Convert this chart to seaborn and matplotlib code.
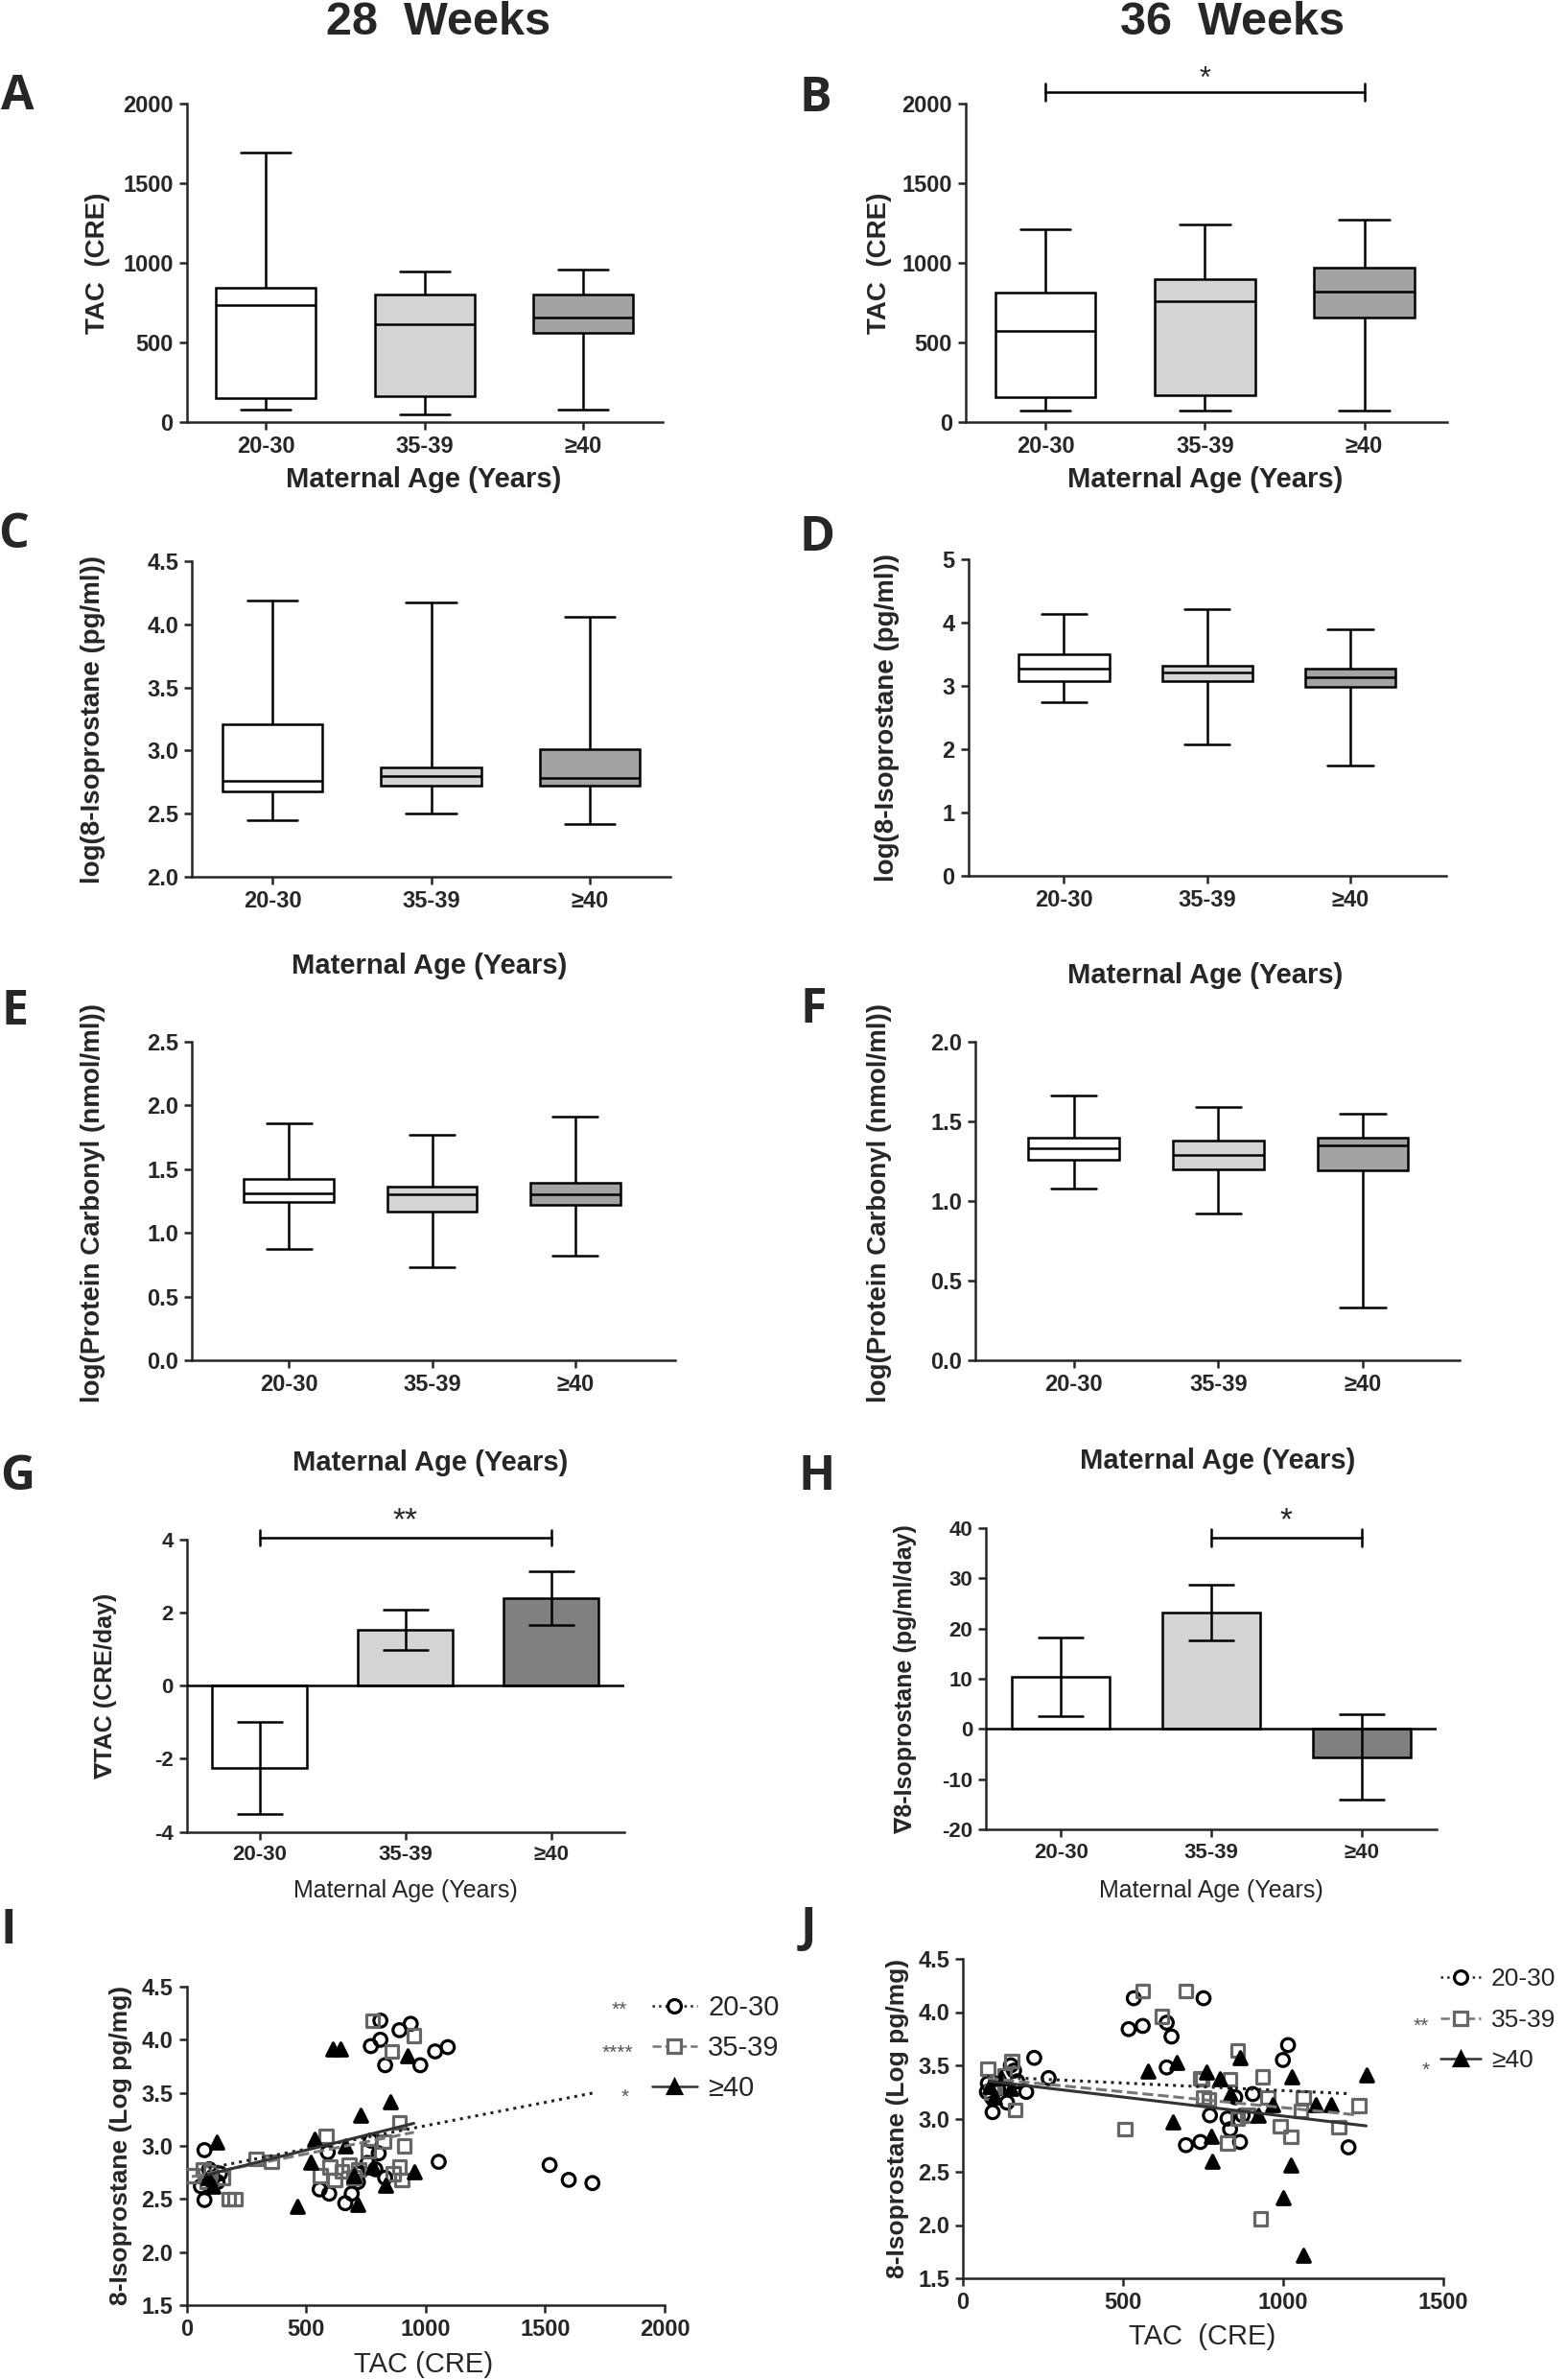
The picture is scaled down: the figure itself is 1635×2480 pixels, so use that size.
import numpy as np
import pandas as pd
import matplotlib
matplotlib.use("Agg")
import matplotlib.pyplot as plt
from matplotlib.lines import Line2D
import seaborn as sns

# ---- data ----
groups = ["20-30", "35-39", "≥40"]

# box summaries per group: [min, Q1, median, Q3, max]
tac_28 = [[76, 151, 734, 844, 1690], [48, 161, 617, 800, 945], [78, 563, 659, 800, 959]]
tac_36 = [[72, 157, 572, 815, 1213], [72, 169, 757, 898, 1239], [72, 657, 818, 971, 1269]]
iso_28 = [[2.45, 2.68, 2.76, 3.21, 4.19], [2.50, 2.72, 2.80, 2.87, 4.17], [2.42, 2.72, 2.78, 3.01, 4.06]]
iso_36 = [[2.75, 3.07, 3.28, 3.50, 4.14], [2.07, 3.07, 3.21, 3.32, 4.21], [1.75, 2.99, 3.14, 3.28, 3.89]]
pc_28 = [[0.87, 1.24, 1.31, 1.42, 1.86], [0.73, 1.17, 1.30, 1.36, 1.77], [0.82, 1.22, 1.30, 1.39, 1.91]]
pc_36 = [[1.08, 1.26, 1.33, 1.40, 1.66], [0.92, 1.20, 1.29, 1.38, 1.59], [0.33, 1.19, 1.35, 1.40, 1.55]]

# rate of change, mean and SEM
dtac_mean = [-2.25, 1.53, 2.40]
dtac_err = [1.26, 0.56, 0.73]
diso_mean = [10.4, 23.2, -5.6]
diso_err = [7.8, 5.5, 8.5]

# scatter I (28 weeks): TAC vs 8-isoprostane
i_x_2030 = [75, 75, 95, 110, 130, 60, 140, 557, 591, 597, 664, 691, 717, 717, 757, 771, 804, 831, 790,
            771, 811, 811, 831, 891, 938, 978, 1040, 1093, 1055, 1519, 1599, 1698]
i_y_2030 = [2.96, 2.49, 2.78, 2.70, 2.66, 2.62, 2.74, 2.59, 2.94, 2.55, 2.46, 2.55, 2.66, 2.74, 2.84, 3.05, 2.93, 2.70, 2.78,
            3.94, 4.18, 4.00, 3.76, 4.09, 4.15, 3.76, 3.89, 3.93, 2.85, 2.82, 2.68, 2.65]
i_x_3539 = [22, 70, 85, 100, 150, 176, 203, 290, 356, 584, 560, 600, 620, 650, 680, 700, 720, 760, 824, 864,
            891, 891, 911, 900, 778, 858, 951]
i_y_3539 = [2.72, 2.78, 2.66, 2.75, 2.70, 2.50, 2.50, 2.88, 2.85, 3.09, 2.72, 2.80, 2.68, 2.76, 2.82, 2.70, 2.78, 2.95, 3.04, 2.74,
            2.80, 3.22, 3.00, 2.68, 4.18, 3.89, 4.04]
i_x_40 = [126, 90, 110, 463, 519, 537, 611, 644, 664, 717, 728, 831, 851, 925, 951, 700, 780]
i_y_40 = [3.04, 2.70, 2.62, 2.43, 2.85, 3.06, 3.91, 3.91, 3.00, 2.45, 3.29, 2.63, 3.42, 3.85, 2.76, 2.72, 2.80]

# scatter J (36 weeks)
j_x_2030 = [78, 93, 138, 110, 90, 160, 170, 198, 223, 268, 75, 150, 518, 562, 534, 637, 637, 652, 752,
            697, 742, 772, 835, 866, 851, 906, 874, 1000, 1016, 1205, 827]
j_y_2030 = [3.33, 3.06, 3.15, 3.28, 3.20, 3.45, 3.35, 3.25, 3.57, 3.38, 3.25, 3.50, 3.84, 3.87, 4.13, 3.48, 3.90, 3.77, 4.13,
            2.75, 2.78, 3.03, 2.90, 2.78, 3.20, 3.23, 3.03, 3.55, 3.69, 2.73, 3.00]
j_x_3539 = [78, 153, 163, 100, 130, 90, 507, 562, 697, 622, 742, 752, 748, 769, 835, 859, 827, 890, 937,
            953, 930, 992, 1024, 1056, 1064, 1174, 1237, 859]
j_y_3539 = [3.47, 3.54, 3.08, 3.30, 3.40, 3.25, 2.90, 4.20, 4.20, 3.96, 3.38, 3.20, 3.37, 3.18, 3.37, 3.64, 2.77, 3.03, 3.39,
            3.20, 2.06, 2.93, 2.83, 3.07, 3.20, 2.92, 3.12, 3.00]
j_x_40 = [85, 120, 150, 100, 577, 667, 656, 761, 780, 775, 866, 922, 969, 1000, 1027, 1024, 1063, 1103, 1150, 1260, 835, 804]
j_y_40 = [3.30, 3.38, 3.28, 3.20, 3.45, 3.53, 2.97, 3.44, 2.60, 2.83, 3.57, 3.03, 3.13, 2.26, 3.39, 2.56, 1.72, 3.13, 3.13, 3.41, 3.23, 3.37]

# regression lines (slope, intercept)
i_slope = [0.00044, 0.00045, 0.00056]
i_icpt = [2.75, 2.70, 2.68]
j_slope = [-0.000142, -0.000297, -0.000356]
j_icpt = [3.405, 3.40, 3.38]
i_stars = ["**", "****", "*"]
j_stars = ["", "**", "*"]

# ---- styling ----
NARROW = ["Liberation Sans Narrow", "Liberation Sans", "DejaVu Sans"]
REG = ["Liberation Sans", "DejaVu Sans"]
sns.set_style("ticks")
plt.rcParams["font.family"] = NARROW
plt.rcParams["font.weight"] = "bold"
plt.rcParams["axes.labelweight"] = "bold"

box_colors = ["#ffffff", "#d4d4d4", "#a3a3a3"]
bar_colors = ["#ffffff", "#d4d4d4", "#808080"]
LW = 1.8

W, H = 1635, 2480
fig = plt.figure(figsize=(W / 100, H / 100), dpi=100)


def add_axes(l, t, r, b):
    return fig.add_axes([l / W, 1 - b / H, (r - l) / W, (b - t) / H])


def px_to_axes(ax, x, y):
    l, b, w, h = ax.get_position().bounds
    return (x / W - l) / w, ((1 - y / H) - b) / h


def style(ax, xlim, ylim, yticks, fmt, size=17):
    sns.despine(ax=ax)
    ax.set_xlim(*xlim)
    ax.set_ylim(*ylim)
    ax.set_yticks(yticks)
    ax.set_yticklabels([fmt.format(v) for v in yticks])
    for s in ax.spines.values():
        s.set_linewidth(LW)
    ax.tick_params(width=LW, length=6, direction="out", labelsize=size, pad=4)


def labels(ax, xlabel, ylabel, xpos, ypos, xsize=21, ysize=20, **kw):
    ax.set_xlabel(xlabel, fontsize=xsize, **kw)
    ax.set_ylabel(ylabel, fontsize=ysize, **kw)
    ax.xaxis.set_label_coords(*px_to_axes(ax, *xpos))
    ax.yaxis.set_label_coords(*px_to_axes(ax, *ypos))
    ax.xaxis.label.set_va("center")
    ax.yaxis.label.set_va("center")


def box_panel(ax, summaries):
    df = pd.DataFrame({"group": np.repeat(groups, 5), "value": np.concatenate(summaries)})
    sns.boxplot(data=df, x="group", y="value", hue="group", order=groups, hue_order=groups,
                palette=box_colors, saturation=1, whis=(0, 100), width=0.63, linecolor="black",
                linewidth=LW, fliersize=0, legend=False, ax=ax)


def bar_panel(ax, means, errs):
    sns.barplot(x=groups, y=means, hue=groups, order=groups, hue_order=groups, palette=bar_colors,
                saturation=1, errorbar=None, width=0.65, edgecolor="black", linewidth=LW,
                legend=False, ax=ax)
    ax.errorbar(np.arange(3), means, yerr=errs, fmt="none", ecolor="black", elinewidth=LW,
                capsize=17, capthick=LW, zorder=5)
    ax.axhline(0, color="black", lw=LW, zorder=4)


def sig_bar(ax, x0, x1, level, cap, star_y, text, size=22):
    kw = dict(color="black", lw=LW, clip_on=False)
    ax.plot([x0, x1], [level, level], **kw)
    ax.plot([x0, x0], [level - cap, level + cap], **kw)
    ax.plot([x1, x1], [level - cap, level + cap], **kw)
    ax.text((x0 + x1) / 2, star_y, text, ha="center", va="center", fontsize=size,
            fontweight="normal", family=REG)


line_styles = [":", "--", "-"]
line_colors = ["#222222", "#777777", "#333333"]
mk = ["o", "s", "^"]
mk_face = ["none", "none", "black"]
mk_edge = ["black", "#666666", "black"]


def scatter_panel(ax, xs, ys, slopes, icpts):
    for k in range(3):
        sns.scatterplot(x=xs[k], y=ys[k], marker=mk[k], s=95, color=mk_edge[k],
                        facecolor=mk_face[k], edgecolor=mk_edge[k], linewidth=2.3,
                        ax=ax, zorder=3)
    for k in range(3):
        lx = np.array([min(xs[k]), max(xs[k])])
        sns.lineplot(x=lx, y=icpts[k] + slopes[k] * lx, color=line_colors[k],
                     linestyle=line_styles[k], lw=2.2, ax=ax, zorder=4)


def legend_panel(ax, x, y, stars, star_x, size=21, spacing=0.48):
    handles = [Line2D([0], [0], color=line_colors[k], ls=line_styles[k], lw=1.8, marker=mk[k],
                      ms=10, mfc="white" if mk_face[k] == "none" else "black",
                      mec=mk_edge[k], mew=2.3) for k in range(3)]
    ax.legend(handles, groups, loc="upper left", bbox_to_anchor=(x / W, 1 - y / H),
              bbox_transform=fig.transFigure, frameon=False, handlelength=1.6,
              handletextpad=0.4, labelspacing=spacing, borderpad=0, borderaxespad=0,
              prop={"family": NARROW, "weight": "normal", "size": size})
    rows = [y + 16, y + 61.5, y + 107]
    for s, ry, sx in zip(stars, rows, star_x):
        if s:
            fig.text(sx / W, 1 - ry / H, s, ha="center", va="center", color="#555555",
                     fontsize=15, fontweight="normal", family=REG)


# ---- A: TAC 28 weeks ----
axA = add_axes(194.5, 108, 691, 440)
box_panel(axA, tac_28)
style(axA, (-0.5, 2.5), (0, 2000), [0, 500, 1000, 1500, 2000], "{:.0f}")
labels(axA, "Maternal Age (Years)", "TAC  (CRE)", (442, 500), (102, 274))

# ---- B: TAC 36 weeks ----
axB = add_axes(1007, 108, 1509, 440)
box_panel(axB, tac_36)
style(axB, (-0.5, 2.52), (0, 2000), [0, 500, 1000, 1500, 2000], "{:.0f}")
labels(axB, "Maternal Age (Years)", "TAC  (CRE)", (1257, 500), (917, 274))
sig_bar(axB, 0, 2, 2072, 54, 2150, "*")

# ---- C: isoprostane 28 weeks ----
axC = add_axes(200, 585, 699, 914)
box_panel(axC, iso_28)
style(axC, (-0.51, 2.51), (2.0, 4.5), [2.0, 2.5, 3.0, 3.5, 4.0, 4.5], "{:.1f}")
labels(axC, "Maternal Age (Years)", "log(8-Isoprostane (pg/ml))", (448, 1007), (97, 750))

# ---- D: isoprostane 36 weeks ----
axD = add_axes(1009.5, 583, 1508, 913)
box_panel(axD, iso_36)
style(axD, (-0.67, 2.67), (0, 5), [0, 1, 2, 3, 4, 5], "{:.0f}")
labels(axD, "Maternal Age (Years)", "log(8-Isoprostane (pg/ml))", (1257, 1017), (925, 748))

# ---- E: protein carbonyl 28 weeks ----
axE = add_axes(200, 1086, 704, 1418)
box_panel(axE, pc_28)
style(axE, (-0.68, 2.7), (0, 2.5), [0.0, 0.5, 1.0, 1.5, 2.0, 2.5], "{:.1f}")
labels(axE, "Maternal Age (Years)", "log(Protein Carbonyl (nmol/ml))", (449, 1525), (97, 1254))

# ---- F: protein carbonyl 36 weeks ----
axF = add_axes(1017, 1086, 1522, 1418)
box_panel(axF, pc_36)
style(axF, (-0.68, 2.67), (0, 2.0), [0.0, 0.5, 1.0, 1.5, 2.0], "{:.1f}")
labels(axF, "Maternal Age (Years)", "log(Protein Carbonyl (nmol/ml))", (1270, 1523), (917, 1254))

# ---- G: change in TAC ----
axG = add_axes(194.5, 1605, 651, 1909.5)
bar_panel(axG, dtac_mean, dtac_err)
style(axG, (-0.5, 2.5), (-4, 4), [-4, -2, 0, 2, 4], "{:.0f}", size=16)
axG.tick_params(labelfontfamily=REG)
labels(axG, "Maternal Age (Years)", "∇TAC (CRE/day)", (423, 1971), (110, 1757),
       xsize=18, ysize=18, family=REG)
axG.xaxis.label.set_fontweight("normal")
sig_bar(axG, 0, 2, 4.05, 0.21, 4.51, "**", size=24)

# ---- H: change in isoprostane ----
axH = add_axes(1028, 1593, 1498, 1907)
bar_panel(axH, diso_mean, diso_err)
style(axH, (-0.5, 2.5), (-20, 40), [-20, -10, 0, 10, 20, 30, 40], "{:.0f}", size=16)
axH.tick_params(labelfontfamily=REG)
labels(axH, "Maternal Age (Years)", "∇8-Isoprostane (pg/ml/day)", (1263, 1971), (944, 1750),
       xsize=18, ysize=18, family=REG)
axH.xaxis.label.set_fontweight("normal")
sig_bar(axH, 1, 2, 38.1, 1.7, 41.3, "*", size=24)

# ---- I: scatter 28 weeks ----
axI = add_axes(194.5, 2071, 693, 2403)
scatter_panel(axI, [i_x_2030, i_x_3539, i_x_40], [i_y_2030, i_y_3539, i_y_40], i_slope, i_icpt)
axI.set_xticks([0, 500, 1000, 1500, 2000])
style(axI, (0, 2000), (1.5, 4.5), [1.5, 2.0, 2.5, 3.0, 3.5, 4.0, 4.5], "{:.1f}")
labels(axI, "TAC (CRE)", "8-Isoprostane (Log pg/mg)", (442, 2465), (126, 2236), ysize=19)
axI.xaxis.label.set_fontweight("normal")
legend_panel(axI, 680, 2079, i_stars, [646, 644, 652])

# ---- J: scatter 36 weeks ----
axJ = add_axes(1004, 2042, 1504.6, 2375)
scatter_panel(axJ, [j_x_2030, j_x_3539, j_x_40], [j_y_2030, j_y_3539, j_y_40], j_slope, j_icpt)
axJ.set_xticks([0, 500, 1000, 1500])
style(axJ, (0, 1500), (1.5, 4.5), [1.5, 2.0, 2.5, 3.0, 3.5, 4.0, 4.5], "{:.1f}")
labels(axJ, "TAC  (CRE)", "8-Isoprostane (Log pg/mg)", (1254, 2436), (936, 2208), ysize=19)
axJ.xaxis.label.set_fontweight("normal")
legend_panel(axJ, 1502, 2051, j_stars, [1482, 1482, 1487], size=19, spacing=0.71)

# ---- column titles and panel letters ----
for x, t in [(457, "28  Weeks"), (1285, "36  Weeks")]:
    fig.text(x / W, 1 - 24 / H, t, ha="center", va="center", fontsize=35, fontweight="bold")
letters = [("A", 18, 101), ("B", 850, 103), ("C", 14, 558), ("D", 852, 561), ("E", 16, 1055),
           ("F", 848, 1053), ("G", 18, 1540), ("H", 852, 1540), ("I", 9, 2013), ("J", 843, 2011)]
for t, x, y in letters:
    fig.text(x / W, 1 - y / H, t, ha="center", va="center", fontsize=36, fontweight="bold",
             family=["Open Sans", "DejaVu Sans"])

fig.savefig("out.png", dpi=100)
